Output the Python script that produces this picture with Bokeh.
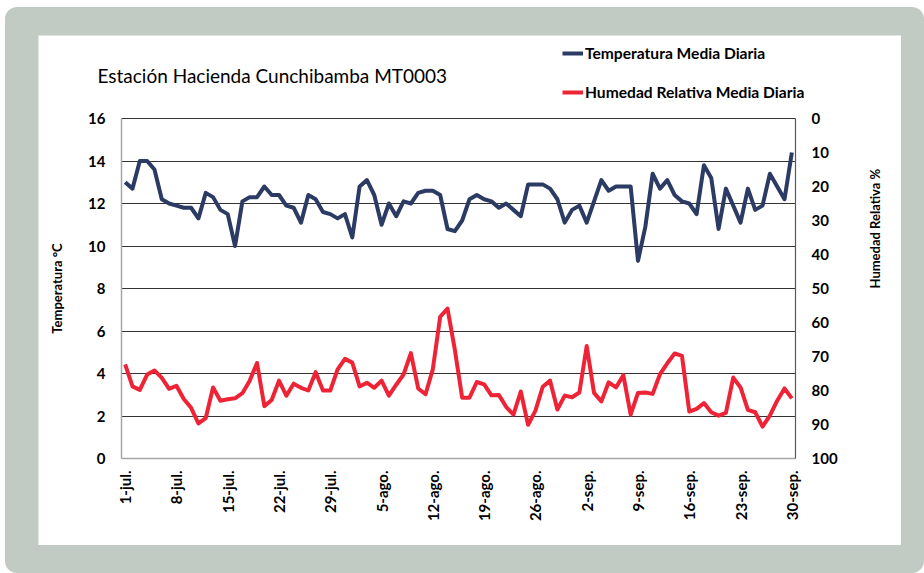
import math
from bokeh.plotting import figure
from bokeh.models import (Range1d, LinearAxis, FixedTicker, Legend, LegendItem, Label)
from bokeh.layouts import column
from bokeh.embed import file_html
from bokeh.resources import INLINE

# ---------------- data ----------------
tick_labels = ["1-jul.", "8-jul.", "15-jul.", "22-jul.", "29-jul.", "5-ago.", "12-ago.",
               "19-ago.", "26-ago.", "2-sep.", "9-sep.", "16-sep.", "23-sep.", "30-sep."]

temperatura = [13.0, 12.7, 14.0, 14.0, 13.6, 12.2, 12.0, 11.9, 11.8, 11.8,
               11.3, 12.5, 12.3, 11.7, 11.5, 10.0, 12.1, 12.3, 12.3, 12.8,
               12.4, 12.4, 11.9, 11.8, 11.1, 12.4, 12.2, 11.6, 11.5, 11.3,
               11.5, 10.4, 12.8, 13.1, 12.4, 11.0, 12.0, 11.4, 12.1, 12.0,
               12.5, 12.6, 12.6, 12.4, 10.8, 10.7, 11.2, 12.2, 12.4, 12.2,
               12.1, 11.8, 12.0, 11.7, 11.4, 12.9, 12.9, 12.9, 12.7, 12.2,
               11.1, 11.7, 11.9, 11.1, 12.1, 13.1, 12.6, 12.8, 12.8, 12.8,
               9.3, 10.9, 13.4, 12.7, 13.1, 12.4, 12.1, 12.0, 11.5, 13.8,
               13.2, 10.8, 12.7, 11.9, 11.1, 12.7, 11.7, 11.9, 13.4, 12.8,
               12.2, 14.4]

humedad = [72.3, 78.8, 79.8, 75.3, 74.1, 76.3, 79.5, 78.6, 82.5, 85.1,
           89.7, 88.1, 79.1, 83.0, 82.6, 82.3, 80.8, 77.1, 71.9, 84.6,
           82.8, 77.1, 81.5, 78.0, 79.2, 80.0, 74.6, 80.0, 80.0, 73.8,
           70.7, 71.8, 78.8, 77.7, 79.2, 77.1, 81.5, 78.3, 75.3, 69.0,
           79.4, 81.1, 73.7, 58.3, 55.9, 68.0, 82.1, 82.1, 77.5, 78.2,
           81.4, 81.3, 84.8, 87.1, 80.3, 90.1, 85.9, 78.9, 77.1, 85.6,
           81.5, 82.0, 80.6, 66.9, 80.7, 83.2, 77.6, 79.1, 75.5, 87.1,
           80.7, 80.6, 81.0, 75.2, 72.0, 69.1, 69.8, 86.2, 85.4, 83.7,
           86.4, 87.4, 86.6, 76.2, 79.1, 85.7, 86.4, 90.6, 87.4, 83.0,
           79.4, 82.3]

dias = list(range(len(temperatura)))
tick_pos = list(range(0, len(temperatura), 7))
temp_ticks = list(range(0, 17, 2))
hum_ticks = list(range(0, 101, 10))

TITLE = "Estación Hacienda Cunchibamba  MT0003"
SERIES = ["Temperatura Media Diaria", "Humedad Relativa Media Diaria"]

FONT = "Lato"
NAVY = "#2c3b64"
RED = "#ee2436"
LW = 4

# ---------------- layout geometry (pixels) ----------------
W, H = 863, 510
PAD_L, PAD_R, PAD_T, PAD_B = 83, 106, 83, 87     # plot area inside the white panel
plot_w = W - PAD_L - PAD_R
plot_h = H - PAD_T - PAD_B

n = len(dias)
x0, x1 = -0.5, n - 0.5
ppx = plot_w / (x1 - x0)
t0, t1 = temp_ticks[0], temp_ticks[-1]
ppy = plot_h / (t1 - t0)
h_top, h_bot = hum_ticks[0], hum_ticks[-1]
pph = plot_h / (h_bot - h_top)

p = figure(width=W, height=H, output_backend="svg", toolbar_location=None,
           x_range=Range1d(x0 - PAD_L / ppx, x1 + PAD_R / ppx),
           y_range=Range1d(t0 - PAD_B / ppy, t1 + PAD_T / ppy),
           min_border=0, background_fill_color="white", border_fill_color="white")
p.outline_line_color = None
p.title.visible = False
p.extra_y_ranges = {"hum": Range1d(h_bot + PAD_B / pph, h_top - PAD_T / pph)}

# horizontal grid lines limited to the plot area
p.xgrid.visible = False
p.ygrid.ticker = FixedTicker(ticks=temp_ticks[1:])
p.ygrid.grid_line_color = "#333333"
p.ygrid.grid_line_width = 1
p.ygrid.bounds = (t0, t1)
grid_ok = True
try:
    p.ygrid.cross_bounds = (x0, x1)
except Exception:
    grid_ok = False
if not grid_ok:
    p.ygrid.visible = False
    gy = temp_ticks[1:]
    p.segment(x0=[x0] * len(gy), x1=[x1] * len(gy), y0=gy, y1=gy,
              line_color="#333333", line_width=1)


def style_axis(ax, standoff):
    ax.major_label_text_font = FONT
    ax.major_label_text_font_style = "bold"
    ax.major_label_text_font_size = "15px"
    ax.major_label_text_color = "black"
    ax.major_label_standoff = standoff
    ax.major_tick_line_color = None
    ax.minor_tick_line_color = None
    ax.major_tick_out = 0
    ax.major_tick_in = 0
    ax.minor_tick_out = 0
    ax.minor_tick_in = 0
    ax.axis_label_text_font = FONT
    ax.axis_label_text_font_style = "bold"
    ax.axis_label_text_font_size = "13px"
    ax.axis_label_text_color = "black"


ya = p.yaxis[0]
ya.ticker = FixedTicker(ticks=temp_ticks)
ya.fixed_location = x0
ya.bounds = (t0, t1)
ya.axis_label = "Temperatura °C"
style_axis(ya, 16)
ya.axis_label_standoff = 20
ya.axis_line_color = "#a6a6a6"
ya.axis_line_width = 1.5

xa = p.xaxis[0]
xa.ticker = FixedTicker(ticks=tick_pos)
xa.fixed_location = t0
xa.bounds = (x0, x1)
xa.major_label_overrides = {t: lab for t, lab in zip(tick_pos, tick_labels)}
xa.major_label_orientation = math.pi / 2
style_axis(xa, 12)
xa.axis_line_color = "#a6a6a6"
xa.axis_line_width = 1.5

ra = LinearAxis(y_range_name="hum", ticker=FixedTicker(ticks=hum_ticks))
ra.fixed_location = x1
ra.bounds = (h_top, h_bot)
ra.axis_label = "Humedad Relativa %"
style_axis(ra, 16)
ra.axis_label_standoff = 34
try:
    ra.axis_label_orientation = math.pi / 2
except Exception:
    pass
ra.axis_line_color = "#595959"
ra.axis_line_width = 1.2
p.add_layout(ra, "right")

r_temp = p.line(dias, temperatura, line_color=NAVY, line_width=LW, line_join="round")
r_hum = p.line(dias, humedad, y_range_name="hum", line_color=RED, line_width=LW,
               line_join="round")

legend = Legend(items=[LegendItem(label=SERIES[0], renderers=[r_temp]),
                       LegendItem(label=SERIES[1], renderers=[r_hum])],
                location=(524, 443), orientation="vertical")
legend.label_text_font = FONT
legend.label_text_font_style = "bold"
legend.label_text_font_size = "15.6px"
legend.label_text_color = "black"
legend.glyph_width = 21
legend.glyph_height = 20
legend.label_height = 20
legend.label_standoff = 2
legend.spacing = 19
legend.padding = 0
legend.margin = 0
legend.background_fill_alpha = 0
legend.border_line_alpha = 0
p.add_layout(legend, "center")

p.add_layout(Label(x=59, y=470, x_units="screen", y_units="screen", text=TITLE,
                   text_font=FONT, text_font_size="19px", text_color="black",
                   text_baseline="middle", text_align="left"))

layout = column(p, styles={"background-color": "#c1cbc3",
                           "padding": "28px 23px 28px 33px",
                           "margin-left": "5px", "margin-top": "7px",
                           "border-radius": "12px"})

open("out.html", "w").write(file_html(layout, INLINE))
